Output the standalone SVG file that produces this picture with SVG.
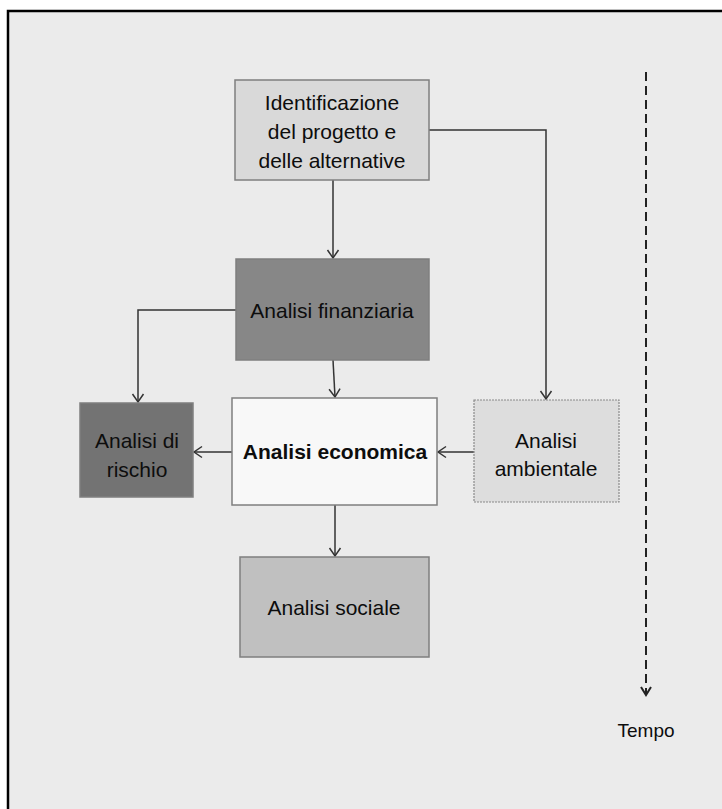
<svg xmlns="http://www.w3.org/2000/svg" width="722" height="809" viewBox="0 0 722 809">
<defs>
<style>
.box{stroke:#7f7f7f;stroke-width:1.5}
.t{font-family:"Liberation Sans",Arial,sans-serif;font-size:21px;fill:#0d0d0d;text-anchor:middle}
.b{font-weight:bold}
.c{fill:none;stroke:#333;stroke-width:1.5}
</style>
<marker id="ah" markerUnits="userSpaceOnUse" markerWidth="14" markerHeight="14" refX="0" refY="0" viewBox="-9 -7 10 14" orient="auto">
<path d="M-8,-5.5 L0,0 L-8,5.5" fill="none" stroke="#333" stroke-width="1.5"/>
</marker>
<marker id="ah2" markerUnits="userSpaceOnUse" markerWidth="14" markerHeight="14" refX="0" refY="0" viewBox="-9 -7 10 14" orient="auto">
<path d="M-8,-5 L0,0 L-8,5" fill="none" stroke="#222" stroke-width="2"/>
</marker>
</defs>
<rect x="0" y="0" width="722" height="809" fill="#ffffff"/>
<rect x="8" y="11" width="714" height="798" fill="#ebebeb"/>
<path d="M8,809 L8,11 L722,11" fill="none" stroke="#000" stroke-width="2.5"/>

<g id="connectors">
<path class="c" d="M333,180 L333,258" marker-end="url(#ah)"/>
<path class="c" d="M429,130 L546,130 L546,399" marker-end="url(#ah)"/>
<path class="c" d="M236,310 L138,310 L138,402" marker-end="url(#ah)"/>
<path class="c" d="M333,360 L335,397" marker-end="url(#ah)"/>
<path class="c" d="M474,452 L438,452" marker-end="url(#ah)"/>
<path class="c" d="M232,452 L194,452" marker-end="url(#ah)"/>
<path class="c" d="M335,505 L335,556" marker-end="url(#ah)"/>
<path d="M646,72 L646,695" fill="none" stroke="#222" stroke-width="2" stroke-dasharray="9,5" marker-end="url(#ah2)"/>
</g>

<g id="identificazione">
<rect class="box" x="235" y="80" width="194" height="100" fill="#d9d9d9"/>
<text class="t" x="332" y="110">Identificazione</text>
<text class="t" x="332" y="139">del progetto e</text>
<text class="t" x="332" y="168">delle alternative</text>
</g>
<g id="finanziaria">
<rect class="box" x="236" y="259" width="193" height="101" fill="#878787"/>
<text class="t" x="332" y="318">Analisi finanziaria</text>
</g>
<g id="rischio">
<rect class="box" x="80" y="403" width="113" height="94" fill="#737373"/>
<text class="t" x="137" y="448">Analisi di</text>
<text class="t" x="137" y="477">rischio</text>
</g>
<g id="economica">
<rect class="box" x="232" y="398" width="205" height="107" fill="#f8f8f8"/>
<text class="t b" x="335" y="459">Analisi economica</text>
</g>
<g id="ambientale">
<rect x="474" y="400" width="145" height="102" fill="#dddddd" stroke="#8a8a8a" stroke-width="1.2" stroke-dasharray="2,1"/>
<text class="t" x="546" y="448">Analisi</text>
<text class="t" x="546" y="476">ambientale</text>
</g>
<g id="sociale">
<rect class="box" x="240" y="557" width="189" height="100" fill="#c0c0c0"/>
<text class="t" x="334" y="615">Analisi sociale</text>
</g>
<g id="tempo">
<text class="t" x="646" y="737" style="font-size:19px">Tempo</text>
</g>
</svg>
